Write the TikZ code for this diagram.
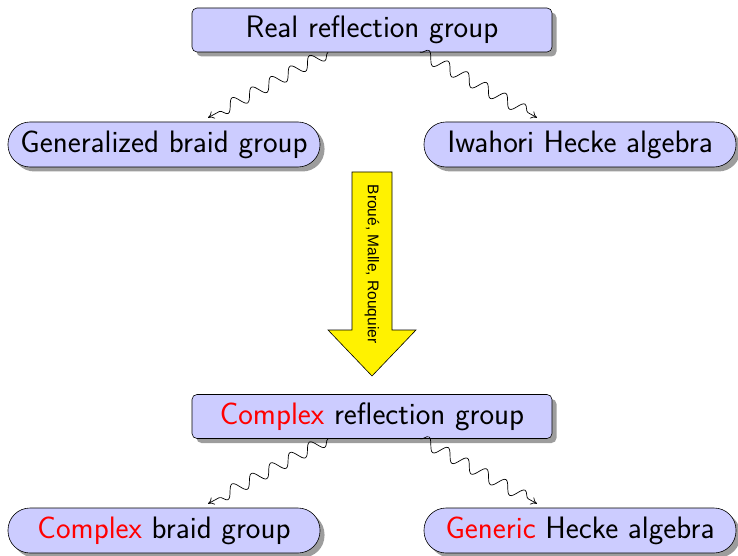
\documentclass[tikz,border=0pt]{standalone}
\usepackage{fontspec}
\newfontfamily\arrowfont{Liberation Sans}
\usetikzlibrary{shadows,decorations.pathmorphing,arrows.meta,calc}
\begin{document}
\begin{tikzpicture}[x=1pt,y=-1pt,
  box/.style={draw=black, fill=blue!20, rounded corners=5pt, minimum width=360pt, minimum height=44pt,
    font=\sffamily\fontsize{31}{35}\selectfont, inner sep=0pt, line width=0.6pt,
    drop shadow={shadow xshift=4.5pt, shadow yshift=-4.5pt, opacity=0.7, fill=black!55}},
  pill/.style={box, rounded corners=22pt, minimum width=312pt, minimum height=45pt},
  wave/.style={draw=black, line width=0.7pt, -{To[length=6pt,width=8pt]},
    decorate, decoration={snake, amplitude=6pt, segment length=22pt, post length=5pt}},
  hl/.style={text=red}]
\useasboundingbox (0,0) rectangle (738,556);
\node[box] (real) at (372,30) {Real reflection group};
\node[pill] (braid) at (164,144.5) {Generalized braid group};
\node[pill] (hecke) at (580,144.5) {Iwahori Hecke algebra};
\node[box] (cplx) at (372,416.5) {\textcolor{red}{Complex} reflection group};
\node[pill] (cbraid) at (164,530.5) {\textcolor{red}{Complex} braid group};
\node[pill] (ghecke) at (580,530.5) {\textcolor{red}{Generic} Hecke algebra};
% big arrow
\coordinate (a1) at (352,172);
\coordinate (a2) at (392,172);
\coordinate (a3) at (392,330);
\coordinate (a4) at (416,330);
\coordinate (tip) at (372,376);
\coordinate (a6) at (328,330);
\coordinate (a7) at (352,330);
\draw[fill=yellow, draw=black, line width=0.6pt] (a1) -- (a2) -- (a3) -- (a4) -- (tip) -- (a6) -- (a7) -- cycle;
\node[rotate=-90, font=\arrowfont\fontsize{15.5}{18}\selectfont, inner sep=0pt] (lbl) at (372,264) {Broué, Malle, Rouquier};
% snakes
\draw[wave] ($(real.south)+(-44,0)$) -- ($(braid.north)+(44,-4)$);
\draw[wave] ($(real.south)+(48,0)$) -- ($(hecke.north)+(-43,-4)$);
\draw[wave] ($(cplx.south)+(-44,0)$) -- ($(cbraid.north)+(44,-4)$);
\draw[wave] ($(cplx.south)+(48,0)$) -- ($(ghecke.north)+(-43,-4)$);
\end{tikzpicture}
\end{document}
